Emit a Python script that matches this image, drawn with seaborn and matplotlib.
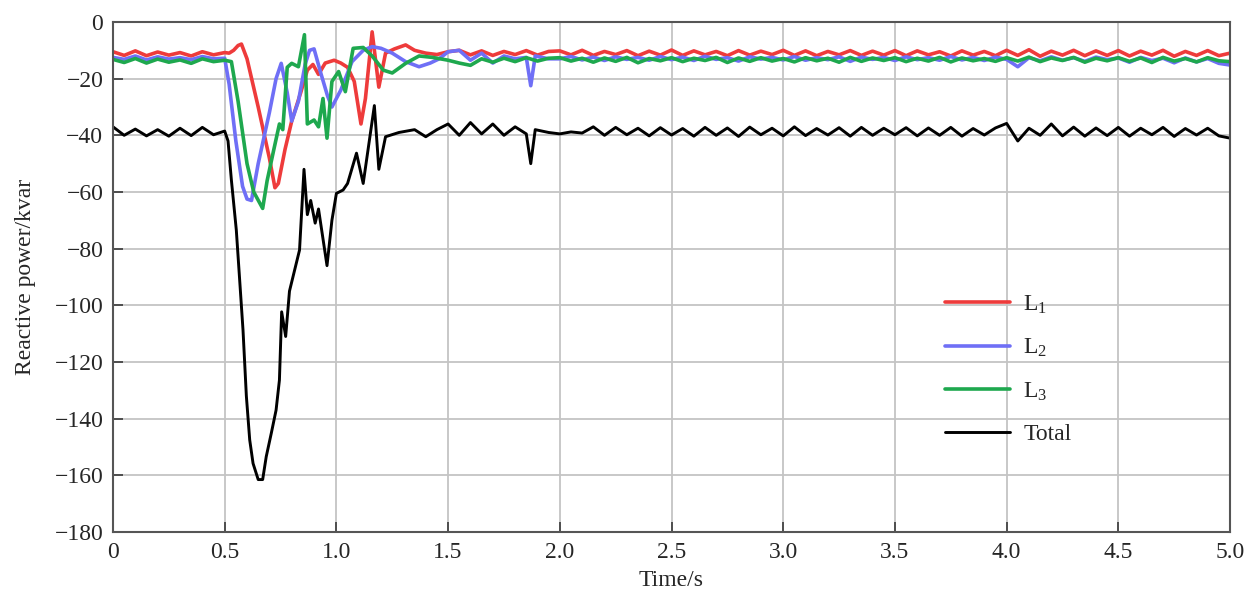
import numpy as np
import pandas as pd
import matplotlib
matplotlib.use("Agg")
import matplotlib.pyplot as plt
import seaborn as sns

# Data ===================================================================================================
# steady part before the fault (t = 0 ... 0.45 s)
t_pre = [0.0, 0.05, 0.10, 0.15, 0.20, 0.25, 0.30, 0.35, 0.40, 0.45]
red_pre = [-10.5, -11.8, -10.2, -11.9, -10.6, -11.7, -10.8, -12.0, -10.5, -11.6]
blue_pre = [-12.5, -13.2, -12.0, -13.4, -12.3, -13.1, -12.6, -13.3, -12.2, -13.0]
green_pre = [-13.2, -14.3, -12.9, -14.5, -13.1, -14.2, -13.4, -14.6, -13.0, -14.0]
total_pre = [-37.0, -40.0, -37.8, -40.2, -38.0, -40.3, -37.5, -40.1, -37.2, -39.8]

# transient (0.5 ... 1.95 s), each phase sampled where it moves
t_red = [0.50, 0.52, 0.54, 0.56, 0.575, 0.60, 0.65, 0.70, 0.725, 0.74, 0.77, 0.80, 0.84, 0.87,
         0.895, 0.92, 0.95, 0.99, 1.02, 1.05, 1.08, 1.11, 1.13, 1.16, 1.19, 1.22, 1.26, 1.31,
         1.35, 1.40, 1.45, 1.50, 1.55, 1.60, 1.65, 1.70, 1.75, 1.80, 1.85, 1.90, 1.95]
red_tr = [-10.8, -11.0, -10.0, -8.3, -7.8, -13.0, -30.0, -48.0, -58.5, -57.0, -45.0, -35.0, -25.0, -17.0,
          -15.0, -18.5, -14.5, -13.5, -14.5, -16.0, -21.0, -36.0, -27.0, -3.5, -23.0, -11.0, -9.5, -8.1,
          -10.0, -11.0, -11.5, -10.5, -10.0, -11.6, -10.2, -11.8, -10.4, -11.5, -10.1, -11.7, -10.4]

t_blue = [0.50, 0.52, 0.55, 0.58, 0.60, 0.62, 0.65, 0.70, 0.73, 0.753, 0.78, 0.80, 0.83, 0.86,
          0.88, 0.90, 0.93, 0.96, 0.98, 1.02, 1.07, 1.12, 1.16, 1.20, 1.25, 1.31, 1.37, 1.42,
          1.46, 1.50, 1.55, 1.60, 1.65, 1.70, 1.75, 1.80, 1.85, 1.87, 1.89, 1.95]
blue_tr = [-12.8, -22.0, -42.0, -58.0, -62.5, -63.0, -50.0, -32.0, -20.0, -14.6, -25.0, -35.0, -28.0, -15.0,
           -10.0, -9.5, -18.0, -26.0, -30.0, -24.0, -14.0, -10.0, -8.7, -9.3, -11.0, -14.0, -15.8, -14.5,
           -13.0, -10.5, -10.0, -13.5, -11.0, -14.5, -12.0, -13.0, -12.5, -22.5, -12.0, -13.0]

t_green = [0.50, 0.53, 0.56, 0.60, 0.63, 0.67, 0.69, 0.72, 0.745, 0.76, 0.78, 0.80, 0.83, 0.857,
           0.87, 0.90, 0.92, 0.94, 0.958, 0.98, 1.01, 1.04, 1.075, 1.12, 1.16, 1.21, 1.25, 1.31,
           1.37, 1.43, 1.50, 1.55, 1.60, 1.65, 1.70, 1.75, 1.80, 1.85, 1.90, 1.95]
green_tr = [-13.5, -14.0, -28.0, -50.0, -60.0, -65.8, -56.0, -45.0, -36.0, -38.0, -16.0, -14.6, -15.8, -4.5,
            -36.0, -34.6, -37.0, -27.0, -41.0, -21.0, -17.5, -24.6, -9.3, -9.0, -12.0, -17.0, -18.0, -14.6,
            -12.0, -12.5, -13.5, -14.5, -15.3, -13.0, -14.2, -12.8, -14.0, -12.6, -13.8, -12.8]

t_total = [0.50, 0.515, 0.53, 0.552, 0.567, 0.582, 0.597, 0.612, 0.627, 0.65, 0.67, 0.686, 0.709, 0.73,
           0.745, 0.755, 0.773, 0.79, 0.835, 0.855, 0.87, 0.885, 0.905, 0.92, 0.958, 0.98, 1.00, 1.03,
           1.05, 1.09, 1.12, 1.17, 1.19, 1.22, 1.28, 1.35, 1.40, 1.45, 1.50, 1.55, 1.60, 1.65,
           1.70, 1.75, 1.80, 1.85, 1.87, 1.89, 1.95]
total_tr = [-38.5, -42.0, -55.8, -73.4, -91.0, -108.7, -132.0, -147.5, -155.8, -161.5, -161.5, -153.4, -145.0, -137.0,
            -126.4, -102.3, -111.0, -95.0, -80.5, -52.0, -68.0, -63.0, -71.0, -66.0, -86.0, -70.0, -60.5, -59.3,
            -57.0, -46.3, -57.0, -29.5, -52.0, -40.5, -39.0, -38.0, -40.5, -38.0, -36.0, -40.0, -35.5, -39.5,
            -36.0, -40.0, -37.0, -39.5, -50.0, -38.0, -39.0]

# steady part after recovery (t = 2.0 ... 5.0 s, every 0.05 s)
t_post = np.round(np.arange(2.0, 5.0001, 0.05), 2)
red_post = [-10.2, -11.6, -10.0, -11.8, -10.4, -11.5, -10.1, -11.9, -10.3, -11.7,
            -9.9, -11.8, -10.2, -11.6, -10.4, -11.9, -10.1, -11.7, -10.3, -11.5,
            -10.0, -11.8, -10.2, -11.9, -10.4, -11.6, -10.1, -11.8, -10.3, -11.7,
            -10.1, -11.9, -10.2, -11.6, -10.5, -12.0, -10.2, -11.7, -10.4, -11.9,
            -10.0, -11.8, -9.8, -12.1, -10.3, -11.7, -10.0, -11.9, -10.2, -11.8,
            -10.1, -12.0, -10.3, -11.7, -10.0, -12.1, -10.4, -11.8, -10.1, -11.9,
            -11.0]
blue_post = [-13.0, -12.2, -13.4, -12.4, -13.6, -12.3, -13.2, -12.5, -13.5, -12.2,
             -13.3, -12.4, -13.6, -12.1, -13.2, -12.6, -13.8, -12.3, -13.1, -12.5,
             -13.4, -12.2, -13.5, -12.6, -13.3, -12.3, -13.9, -12.4, -13.2, -12.5,
             -13.6, -12.3, -13.3, -12.6, -13.5, -12.2, -13.4, -12.5, -13.6, -12.4,
             -13.2, -15.8, -12.6, -13.7, -12.3, -13.5, -12.6, -13.9, -12.4, -13.3,
             -12.7, -14.2, -12.5, -13.6, -12.8, -14.4, -12.7, -14.1, -12.9, -14.6,
             -15.2]
green_post = [-12.6, -13.8, -12.8, -14.2, -12.7, -13.9, -12.5, -14.4, -12.9, -13.7,
              -12.6, -14.0, -12.8, -13.6, -12.5, -14.3, -12.7, -13.9, -12.6, -13.8,
              -12.9, -14.1, -12.6, -13.7, -12.8, -14.2, -12.5, -13.9, -12.7, -13.6,
              -12.6, -14.0, -12.8, -13.8, -12.5, -14.1, -12.7, -13.7, -12.9, -13.9,
              -12.6, -13.8, -12.4, -14.0, -12.7, -13.6, -12.5, -14.2, -12.8, -13.7,
              -12.6, -13.9, -12.7, -14.3, -12.5, -13.8, -12.9, -14.1, -12.6, -13.7,
              -14.0]
total_post = [-39.5, -38.8, -39.2, -37.0, -40.0, -37.2, -39.8, -37.5, -40.2, -37.3,
              -39.9, -37.6, -40.3, -37.2, -40.0, -37.4, -40.4, -37.1, -39.8, -37.5,
              -40.2, -37.0, -40.1, -37.6, -39.9, -37.3, -40.3, -37.2, -40.0, -37.5,
              -39.8, -37.3, -40.2, -37.4, -40.0, -37.2, -40.3, -37.6, -39.9, -37.4,
              -35.8, -42.0, -37.5, -40.0, -36.0, -40.2, -37.1, -40.3, -37.4, -40.1,
              -37.2, -40.3, -37.5, -39.8, -37.2, -40.4, -37.6, -39.9, -37.5, -40.2,
              -41.0]

labels = ["L$_1$", "L$_2$", "L$_3$", "Total"]
colors = ["#EE3B3B", "#6F6FF6", "#1EA84E", "#000000"]

# Build long table ========================================================================================
parts = [(t_red, red_pre, red_tr, red_post),
         (t_blue, blue_pre, blue_tr, blue_post),
         (t_green, green_pre, green_tr, green_post),
         (t_total, total_pre, total_tr, total_post)]
frames = []
for lab, (t_tr, v_pre, v_tr, v_post) in zip(labels, parts):
    frames.append(pd.DataFrame({
        "Time": np.concatenate([t_pre, t_tr, t_post]),
        "Value": np.concatenate([v_pre, v_tr, v_post]),
        "Series": lab,
    }))
df = pd.concat(frames, ignore_index=True)

# Plot ===================================================================================================
sns.set_style("whitegrid", {"grid.color": "#c4c4c4", "axes.edgecolor": "#555555"})
plt.rcParams["font.family"] = ["Liberation Serif", "DejaVu Serif"]
plt.rcParams["mathtext.fontset"] = "custom"
plt.rcParams["mathtext.rm"] = "Liberation Serif"
plt.rcParams["mathtext.default"] = "regular"

fig = plt.figure(figsize=(12.47, 5.94), dpi=100)
ax = fig.add_axes([0.0906, 0.1044, 0.8958, 0.8586])

for lab, col in zip(labels, colors):
    sns.lineplot(data=df[df["Series"] == lab], x="Time", y="Value", ax=ax,
                 color=col, label=lab, estimator=None, sort=False,
                 linewidth=2.1 if lab == "Total" else 2.6)

ax.set_xlim(0, 5)
ax.set_ylim(-180, 0)
ax.set_xticks(np.arange(0, 5.01, 0.5))
ax.set_xticklabels(["0", "0.5", "1.0", "1.5", "2.0", "2.5", "3.0", "3.5", "4.0", "4.5", "5.0"])
ax.set_yticks(np.arange(-180, 1, 20))
ax.tick_params(axis="both", labelsize=17, direction="in", length=7, width=1.3,
               color="#444444", bottom=True, left=True)
ax.tick_params(axis="x", pad=7)
ax.tick_params(axis="y", pad=7)
ax.grid(True, linewidth=1.3)
for s in ax.spines.values():
    s.set_linewidth(1.5)

ax.set_xlabel("Time/s", fontsize=17, labelpad=5)
ax.set_ylabel("Reactive power/kvar", fontsize=17, labelpad=13)

leg = ax.legend(loc="upper left", bbox_to_anchor=(0.745, 0.468), frameon=False, fontsize=17,
                handlelength=2.75, handletextpad=0.55, labelspacing=0.9, borderpad=0, borderaxespad=0)

fig.savefig("out.png", dpi=100)
